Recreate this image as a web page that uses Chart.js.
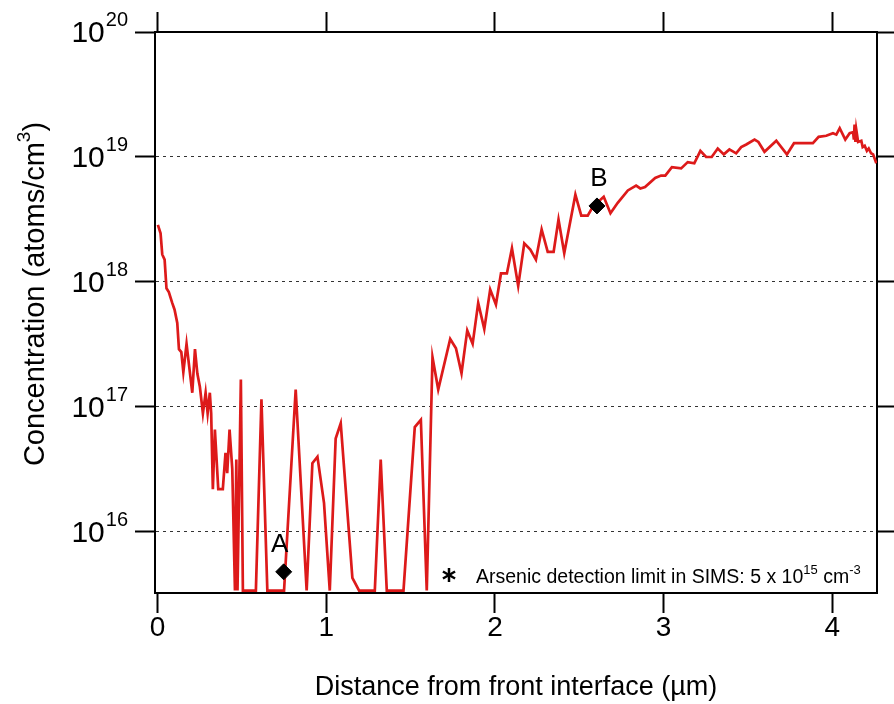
<!DOCTYPE html>
<html>
<head>
<meta charset="utf-8">
<title>Arsenic SIMS profile</title>
<script src="https://cdn.jsdelivr.net/npm/chart.js@4.4.0/dist/chart.umd.min.js"></script>
<style>
  body { margin: 0; background: #fff; }
  canvas { display: block; }
</style>
</head>
<body>
<canvas id="simsChart" width="894" height="704"></canvas>
<script>
// depth in µm, concentration in atoms/cm3
var depth = [
  0.002, 0.018, 0.028, 0.042, 0.053, 0.067, 0.087, 0.101, 0.117, 0.127,
  0.141, 0.153, 0.172, 0.186, 0.206, 0.222, 0.236, 0.251, 0.269, 0.285,
  0.297, 0.310, 0.318, 0.328, 0.340, 0.360, 0.387, 0.403, 0.413, 0.427,
  0.443, 0.459, 0.467, 0.474, 0.494, 0.506, 0.583, 0.616, 0.651, 0.750,
  0.819, 0.884, 0.918, 0.948, 0.987, 1.021, 1.056, 1.086, 1.155, 1.195,
  1.288, 1.323, 1.359, 1.458, 1.525, 1.561, 1.596, 1.630, 1.664, 1.735,
  1.769, 1.802, 1.836, 1.868, 1.901, 1.937, 1.972, 2.006, 2.036, 2.071,
  2.101, 2.138, 2.174, 2.210, 2.243, 2.277, 2.313, 2.348, 2.377, 2.411,
  2.477, 2.512, 2.550, 2.580, 2.645, 2.685, 2.728, 2.788, 2.837, 2.862,
  2.890, 2.950, 2.985, 3.010, 3.049, 3.104, 3.143, 3.182, 3.218, 3.252,
  3.285, 3.321, 3.357, 3.390, 3.430, 3.460, 3.490, 3.539, 3.562, 3.598,
  3.668, 3.731, 3.773, 3.816, 3.885, 3.919, 3.964, 4.004, 4.024, 4.044,
  4.077, 4.103, 4.123, 4.128, 4.132, 4.137, 4.142, 4.153, 4.172, 4.180,
  4.192, 4.205, 4.216, 4.230, 4.242, 4.261
];
var arsenic = [
  2.86e18, 2.45e18, 1.66e18, 1.51e18, 8.9e17, 8.3e17, 6.8e17, 6.0e17, 4.7e17, 2.9e17,
  2.75e17, 1.9e17, 3.2e17, 2.2e17, 1.3e17, 2.9e17, 1.85e17, 1.45e17, 8.9e16, 1.3e17,
  8.9e16, 1.3e17, 8.9e16, 2.2e16, 6.6e16, 2.2e16, 2.2e16, 4.3e16, 2.95e16, 6.6e16,
  3.2e16, 3.4e15, 3.8e16, 3.4e15, 1.66e17, 3.4e15, 3.4e15, 1.15e17, 3.4e15, 3.4e15,
  1.38e17, 3.4e15, 3.55e16, 4.0e16, 1.7e16, 3.4e15, 5.6e16, 7.4e16, 4.3e15, 3.4e15,
  3.4e15, 3.8e16, 3.4e15, 3.4e15, 6.9e16, 7.9e16, 3.4e15, 2.5e17, 1.38e17, 3.5e17,
  2.95e17, 1.86e17, 4.1e17, 3.2e17, 6.8e17, 4.2e17, 8.7e17, 6.6e17, 1.17e18, 1.17e18,
  1.86e18, 9.3e17, 2.04e18, 1.82e18, 1.51e18, 2.63e18, 1.74e18, 1.74e18, 3.16e18, 1.7e18,
  5.0e18, 3.4e18, 3.4e18, 4.0e18, 4.8e18, 3.55e18, 4.3e18, 5.4e18, 5.9e18, 5.6e18,
  5.75e18, 6.8e18, 7.1e18, 7.1e18, 8.3e18, 8.1e18, 9.1e18, 8.9e18, 1.12e19, 1.0e19,
  1.0e19, 1.17e19, 1.05e19, 1.15e19, 1.07e19, 1.2e19, 1.26e19, 1.38e19, 1.32e19, 1.1e19,
  1.35e19, 1.05e19, 1.29e19, 1.29e19, 1.29e19, 1.45e19, 1.48e19, 1.55e19, 1.51e19, 1.7e19,
  1.38e19, 1.55e19, 1.58e19, 1.38e19, 1.82e19, 1.32e19, 1.66e19, 1.32e19, 1.35e19, 1.2e19,
  1.23e19, 1.12e19, 1.17e19, 1.07e19, 1.05e19, 8.9e18
];

// the two marked points
var markerLabels = ['A', 'B'];
var markerDepth = [0.748, 2.605];
var markerConc = [4.8e15, 4.06e18];

// axes
var xTicks = [0, 1, 2, 3, 4];
var yTickValues = [1e16, 1e17, 1e18, 1e19, 1e20];
var yExponents = ['16', '17', '18', '19', '20'];

var FONT = '"Liberation Sans", Arial, sans-serif';

function setTicks(list) {
    return function (scale) {
        scale.ticks = list.map(v => ({ value: v }));
    };
}

// text with superscript pieces: [text, size, raise]
function drawParts(ctx, parts, x, y) {
    parts.forEach(function (p) {
        ctx.font = p[1] + 'px ' + FONT;
        ctx.fillText(p[0], x, y + p[2]);
        x += ctx.measureText(p[0]).width;
    });
}
function partsWidth(ctx, parts) {
    var w = 0;
    parts.forEach(function (p) {
        ctx.font = p[1] + 'px ' + FONT;
        w += ctx.measureText(p[0]).width;
    });
    return w;
}

// draws the 10^n labels, axis numbers, y title, A/B letters and the note
var textPlugin = {
    id: 'simsText',
    afterDraw(chart) {
        var ctx = chart.ctx;
        var xs = chart.scales.x;
        var ys = chart.scales.y;
        ctx.save();
        ctx.fillStyle = '#000';

        yTickValues.forEach(function (v, i) {
            var py = ys.getPixelForValue(v);
            ctx.textAlign = 'right';
            ctx.textBaseline = 'middle';
            ctx.font = '20px ' + FONT;
            var ew = ctx.measureText(yExponents[i]).width;
            ctx.fillText(yExponents[i], ys.right - 27, py - 12);
            ctx.font = '30px ' + FONT;
            ctx.fillText('10', ys.right - 28 - ew, py + 2);
        });

        ctx.textAlign = 'center';
        ctx.textBaseline = 'middle';
        ctx.font = '28px ' + FONT;
        xTicks.forEach(function (v) {
            ctx.fillText(String(v), xs.getPixelForValue(v), xs.top + 35);
        });

        // y axis title, rotated
        var yTitle = [['Concentration (atoms/cm', 29, 0], ['3', 19, -11], [')', 29, 0]];
        ctx.save();
        ctx.translate(36, 294);
        ctx.rotate(-Math.PI / 2);
        ctx.textAlign = 'left';
        ctx.textBaseline = 'middle';
        drawParts(ctx, yTitle, -partsWidth(ctx, yTitle) / 2, 0);
        ctx.restore();

        ctx.textAlign = 'center';
        ctx.textBaseline = 'middle';
        ctx.font = '26px ' + FONT;
        markerLabels.forEach(function (lab, i) {
            var px = xs.getPixelForValue(markerDepth[i]);
            var py = ys.getPixelForValue(markerConc[i]);
            var dx = i === 0 ? -4 : 2;
            ctx.fillText(lab, px + dx, py - 27);
        });

        // asterisk + detection limit note
        var ax = 449, ay = 575;
        ctx.strokeStyle = '#000';
        ctx.lineWidth = 2.5;
        for (var k = 0; k < 3; k++) {
            var a = Math.PI / 2 + k * Math.PI / 3;
            ctx.beginPath();
            ctx.moveTo(ax - 7 * Math.cos(a), ay - 7 * Math.sin(a));
            ctx.lineTo(ax + 7 * Math.cos(a), ay + 7 * Math.sin(a));
            ctx.stroke();
        }
        ctx.textAlign = 'left';
        ctx.textBaseline = 'alphabetic';
        drawParts(ctx, [
            ['Arsenic detection limit in SIMS: 5 x 10', 19.5, 0],
            ['15', 13, -9],
            [' cm', 19.5, 0],
            ['-3', 13, -9]
        ], 476, 583);
        ctx.restore();
    }
};

var profile = depth.map((d, i) => ({ x: d, y: arsenic[i] }));
var markers = markerDepth.map((d, i) => ({ x: d, y: markerConc[i] }));

var ctx = document.getElementById('simsChart').getContext('2d');
var myChart = new Chart(ctx, {
    type: 'scatter',
    data: {
        datasets: [{
            label: 'markers',
            data: markers,
            pointStyle: 'rectRot',
            pointRadius: 8,
            backgroundColor: '#000',
            borderColor: '#000',
            borderWidth: 1,
            showLine: false
        }, {
            label: 'Arsenic',
            data: profile,
            showLine: true,
            borderColor: '#dd1a1a',
            borderWidth: 2.7,
            pointRadius: 0,
            tension: 0,
            fill: false
        }]
    },
    options: {
        responsive: false,
        animation: false,
        layout: { padding: 0 },
        plugins: {
            legend: { display: false },
            tooltip: { enabled: false }
        },
        scales: {
            x: {
                type: 'linear',
                position: 'bottom',
                min: -0.015,
                max: 4.265,
                afterBuildTicks: setTicks(xTicks),
                afterFit: function (s) { s.height = 111; },
                ticks: { display: false },
                grid: { drawOnChartArea: false, tickLength: 20, tickColor: '#000', tickWidth: 2 },
                border: { color: '#000', width: 2 },
                title: {
                    display: true,
                    text: 'Distance from front interface (µm)',
                    font: { family: FONT, size: 27 },
                    color: '#000',
                    padding: { top: 0, bottom: 0 }
                }
            },
            x2: {
                type: 'linear',
                position: 'top',
                min: -0.015,
                max: 4.265,
                afterBuildTicks: setTicks(xTicks),
                afterFit: function (s) { s.height = 32; },
                ticks: { display: false },
                grid: { drawOnChartArea: false, tickLength: 20, tickColor: '#000', tickWidth: 2 },
                border: { color: '#000', width: 2 }
            },
            y: {
                type: 'logarithmic',
                position: 'left',
                min: 3.25e15,
                max: 1e20,
                afterBuildTicks: setTicks(yTickValues),
                afterFit: function (s) { s.width = 155; },
                ticks: { display: false },
                grid: {
                    color: c => (c.tick && c.tick.value >= 1e20 ? 'rgba(0,0,0,0)' : '#333'),
                    lineWidth: 1,
                    tickLength: 20,
                    tickColor: '#000',
                    tickWidth: 2,
                    tickBorderDash: []
                },
                border: { color: '#000', width: 2, dash: [3, 4] }
            },
            y2: {
                type: 'logarithmic',
                position: 'right',
                min: 3.25e15,
                max: 1e20,
                afterBuildTicks: setTicks(yTickValues),
                afterFit: function (s) { s.width = 17; },
                ticks: { display: false },
                grid: { drawOnChartArea: false, tickLength: 20, tickColor: '#000', tickWidth: 2 },
                border: { color: '#000', width: 2 }
            }
        }
    },
    plugins: [textPlugin]
});
</script>
</body>
</html>
